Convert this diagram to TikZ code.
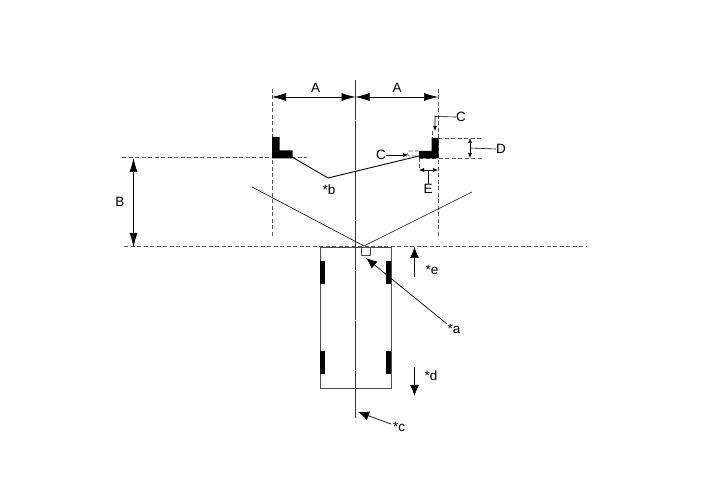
\documentclass[tikz,border=0pt]{standalone}
\usepackage{fontspec}
\setmainfont{Liberation Sans}
\usetikzlibrary{arrows.meta}
\tikzset{
    dimline/.style={line width=0.6pt, {Latex[length=14pt,width=8pt]}-{Latex[length=14pt,width=8pt]}},
    tipline/.style={line width=0.7pt, -{Latex[length=11pt,width=9pt]}},
    smalldim/.style={line width=0.6pt, {Latex[length=5pt,width=4pt]}-{Latex[length=5pt,width=4pt]}},
    tinyline/.style={line width=0.6pt, -{Latex[length=5pt,width=4pt]}},
    guide/.style={line width=0.6pt, gray!70!black, dash pattern=on 4pt off 2.5pt},
    axisline/.style={line width=0.6pt, black!80, dash pattern=on 48pt off 1pt on 0.5pt off 0.5pt, dash phase=8pt},
    plain/.style={line width=0.7pt, black!70},
    tag/.style={font=\fontsize{13.5pt}{15pt}\selectfont, inner sep=0pt}
}
\begin{document}
\begin{tikzpicture}[x=1pt, y=-1pt]
    \useasboundingbox (0,0) rectangle (713,481);

    % guides
    \draw[guide] (272,89) -- (272,236);
    \draw[guide] (438,89) -- (438,236);
    \draw[guide] (122,157.5) -- (307,157.5);
    \draw[guide] (419,158) -- (482,158);
    \draw[guide] (438,138) -- (482,138);
    \draw[guide] (124,246.5) -- (586,246.5);
    \draw[guide] (419,158) -- (419,171);
    \draw[guide] (432,131) -- (432,138);
    \draw[guide] (419,151) -- (409,151) -- (407,153) -- (409,156) -- (416,156);
    \draw[axisline] (355.5,80) -- (355.5,418);

    % brackets
    \fill (272,137) -- (279.5,137) -- (279.5,150.5) -- (292.5,150.5) -- (292.5,158.5) -- (272,158.5) -- cycle;
    \fill (431.5,138) -- (438.5,138) -- (438.5,158.5) -- (419,158.5) -- (419,151) -- (431.5,151) -- cycle;

    % vehicle
    \draw[plain] (320.5,388) -- (320.5,247) -- (391,247) -- (391,388) -- cycle;
    \fill (320,261) rectangle (324.5,284);
    \fill (386,261) rectangle (391,284);
    \fill (320,351) rectangle (324.5,374);
    \fill (386,351) rectangle (391,374);
    \draw[plain] (361,247) rectangle (370,255);

    % sight lines
    \coordinate (apex) at (364,246);
    \draw[line width=0.6pt] (252,187) -- (apex) -- (472,192);
    \draw[line width=0.9pt] (292,157) -- (328,178) -- (419,156);

    % dimensions
    \coordinate (leftA) at (272,97);
    \coordinate (midA) at (355.5,97);
    \coordinate (rightA) at (438,97);
    \draw[dimline] (leftA) -- (midA);
    \draw[dimline] (midA) -- (rightA);
    \node[tag] (labelAa) at (315.5,88) {A};
    \node[tag] (labelAb) at (397,88) {A};

    \coordinate (topB) at (133.5,158);
    \coordinate (botB) at (133.5,247);
    \draw[dimline] (topB) -- (botB);
    \node[tag] (labelB) at (120,202) {B};

    \coordinate (topD) at (470,138);
    \coordinate (botD) at (470,158);
    \draw[smalldim] (topD) -- (botD);
    \node[tag] (labelD) at (501,149) {D};
    \draw[line width=0.6pt] (470,148) -- (labelD.west);

    \coordinate (leftE) at (419,170);
    \coordinate (rightE) at (438,170);
    \draw[smalldim] (leftE) -- (rightE);
    \node[tag] (labelE) at (428,189) {E};
    \draw[line width=0.6pt] (428,170) -- (labelE.north);

    % C leaders
    \node[tag] (labelCa) at (461,117) {C};
    \coordinate (tipCa) at (435,131);
    \draw[tinyline] (labelCa.west) -- (435,116.5) -- (tipCa);
    \node[tag] (labelCb) at (381,155) {C};
    \coordinate (tipCb) at (408,155);
    \draw[tinyline] (labelCb.east) -- (tipCb);

    % callouts
    \node[tag] (labelb) at (329,190) {*b};
    \node[tag] (labela) at (454,329) {*a};
    \coordinate (tipa) at (366,258);
    \draw[tipline] (447,324) -- (tipa);
    \node[tag] (labele) at (432,270) {*e};
    \coordinate (tipe) at (414.5,247);
    \draw[tipline] (414.5,277) -- (tipe);
    \node[tag] (labeld) at (431,376) {*d};
    \coordinate (tipd) at (414.5,396);
    \draw[tipline] (414.5,367) -- (tipd);
    \node[tag] (labelc) at (399,427) {*c};
    \coordinate (tipc) at (358,412);
    \draw[tipline] (391,424) -- (tipc);
\end{tikzpicture}
\end{document}
